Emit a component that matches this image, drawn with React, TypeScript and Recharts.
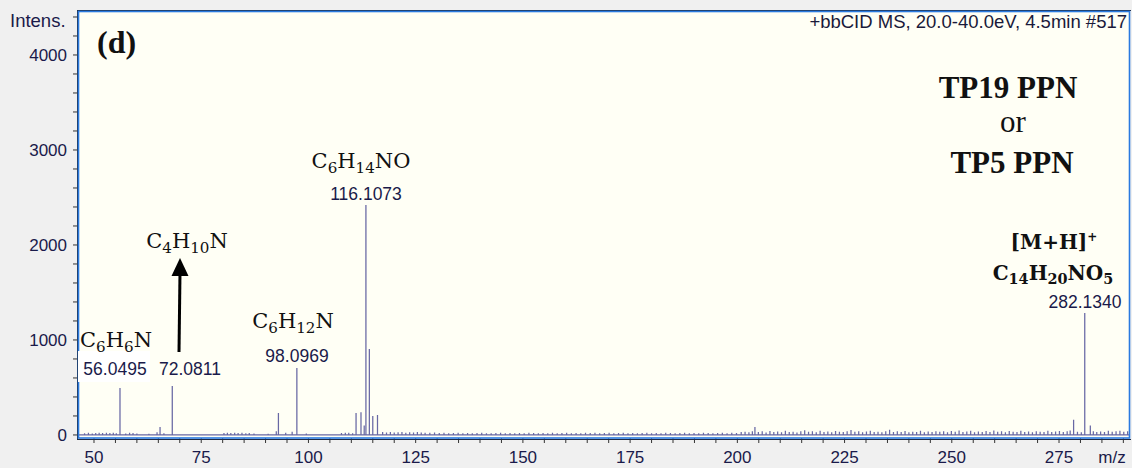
import { ComposedChart, Line, XAxis, YAxis, CartesianGrid } from 'recharts';

// main fragment peaks [m/z, intensity]
const peaks: [number, number][] = [
  [56.06, 495], [65.4, 85], [68.25, 515], [93.0, 230], [97.3, 705],
  [111.1, 230], [112.25, 240], [113.0, 100], [113.4, 2420], [114.2, 905],
  [115.0, 200], [116.1, 210], [278.4, 160], [281.0, 1284], [282.3, 100],
];

// baseline noise sticks [m/z, intensity]
const noise: [number, number][] = [
  [46.4, 0], [47.8, 18], [48.7, 22], [49.6, 15], [50.4, 20], [51.2, 24], [52.0, 20], [52.9, 23],
  [53.7, 21], [54.5, 24], [55.2, 18], [57.4, 16], [58.3, 22], [59.1, 20], [60.0, 15], [62.8, 14],
  [64.7, 28], [66.3, 18], [80.3, 20], [81.1, 23], [81.9, 20], [82.8, 24], [83.6, 21], [84.5, 23],
  [85.4, 18], [86.2, 20], [87.3, 16], [90.6, 14], [92.5, 38], [94.7, 22], [96.2, 35], [99.5, 16],
  [107.7, 20], [108.6, 22], [109.4, 24], [110.3, 19], [117.3, 30], [118.2, 27], [119.1, 30], [120.0, 25],
  [120.9, 28], [121.8, 30], [122.7, 24], [123.6, 28], [124.5, 26], [125.4, 30], [126.3, 27], [127.2, 24],
  [128.3, 22], [129.4, 25], [130.5, 20], [131.6, 22], [132.7, 18], [133.8, 20], [134.9, 22], [136.0, 19],
  [137.1, 21], [138.2, 18], [139.3, 20], [140.4, 22], [141.5, 19], [142.6, 17], [143.7, 20], [144.8, 22],
  [145.9, 18], [147.0, 20], [148.1, 19], [149.2, 21], [150.3, 18], [151.4, 22], [152.5, 20], [153.6, 17],
  [154.7, 21], [155.8, 19], [156.9, 22], [158.0, 18], [159.1, 20], [160.2, 23], [161.3, 19], [162.4, 21],
  [163.5, 18], [164.6, 22], [165.7, 20], [166.8, 24], [167.9, 19], [169.0, 21], [170.1, 23], [171.2, 18],
  [172.3, 20], [173.4, 22], [174.5, 19], [175.6, 21], [176.7, 17], [177.8, 20], [178.9, 22], [180.0, 18],
  [181.1, 21], [182.2, 19], [183.3, 22], [184.4, 20], [185.5, 18], [186.6, 21], [187.7, 23], [188.8, 19],
  [189.9, 20], [191.0, 17], [192.1, 22], [193.2, 20], [194.3, 18], [195.4, 21], [196.5, 24], [197.6, 19],
  [198.7, 22], [199.8, 20], [200.9, 30], [201.8, 35], [202.7, 28], [203.5, 40], [204.1, 85], [204.9, 32],
  [205.8, 38], [206.7, 26], [207.6, 42], [208.5, 30], [209.4, 36], [210.3, 28], [211.2, 45], [212.1, 30],
  [213.0, 34], [213.9, 27], [214.8, 40], [215.7, 50], [216.6, 33], [217.5, 38], [218.4, 29], [219.3, 44],
  [220.2, 31], [221.1, 36], [222.0, 28], [222.9, 42], [223.8, 35], [224.7, 30], [225.6, 38], [226.5, 52],
  [227.4, 33], [228.3, 40], [229.2, 29], [230.1, 36], [231.0, 45], [231.9, 30], [232.8, 34], [233.7, 28],
  [234.6, 40], [235.5, 55], [236.4, 32], [237.3, 38], [238.2, 30], [239.1, 42], [240.0, 28], [240.9, 35],
  [241.8, 31], [242.7, 44], [243.6, 29], [244.5, 36], [245.4, 30], [246.3, 40], [247.2, 33], [248.1, 38],
  [249.0, 28], [249.9, 42], [250.8, 35], [251.7, 48], [252.6, 30], [253.5, 37], [254.4, 44], [255.3, 29],
  [256.2, 36], [257.1, 31], [258.0, 42], [258.9, 30], [259.8, 46], [260.7, 33], [261.6, 38], [262.5, 28],
  [263.4, 41], [264.3, 35], [265.2, 30], [266.1, 44], [267.0, 32], [267.9, 37], [268.8, 29], [269.7, 40],
  [270.6, 34], [271.5, 31], [272.4, 45], [273.3, 30], [274.2, 36], [275.1, 42], [276.0, 30], [276.9, 38],
  [277.6, 46], [279.3, 34], [280.2, 28], [283.0, 40], [283.8, 32], [284.7, 36], [285.6, 30], [286.5, 44],
  [287.4, 33], [288.3, 38], [289.2, 45], [290.1, 34], [291.0, 40], [291.5, 0],
];

const xTicks = [50, 55, 60, 65, 70, 75, 80, 85, 90, 95, 100, 105, 110, 115, 120, 125, 130, 135, 140, 145,
  150, 155, 160, 165, 170, 175, 180, 185, 190, 195, 200, 205, 210, 215, 220, 225, 230, 235, 240, 245,
  250, 255, 260, 265, 270, 275, 280, 285, 290];
const yTicks = [0, 200, 400, 600, 800, 1000, 1200, 1400, 1600, 1800, 2000, 2200, 2400, 2600, 2800,
  3000, 3200, 3400, 3600, 3800, 4000, 4200, 4400];

// each peak becomes a stick: up and back down to the baseline
const sticks = [...peaks, ...noise]
  .sort((a, b) => a[0] - b[0])
  .flatMap(([mz, v]) => [{ mz, i: 0 }, { mz, i: v }, { mz, i: 0 }]);

const NAVY = '#1a1a4a';
const tickStyle = { fill: NAVY, fontSize: 17, fontFamily: 'Liberation Sans' };

const Chem = ({ text, x, y, size, bold }: { text: string; x: number; y: number; size: number; bold?: boolean }) => {
  const parts = text.match(/\d+|\D+/g) || [];
  const shift = Math.round(size * 0.22);
  let low = false;
  return (
    <text x={x} y={y} textAnchor="middle" fontFamily="DejaVu Serif" fontSize={size}
      fontWeight={bold ? 'bold' : 'normal'} fill="#111">
      {parts.map((p, k) => {
        if (/\d/.test(p)) {
          const dy = low ? 0 : shift;
          low = true;
          return <tspan key={k} dy={dy} fontSize={size * 0.72}>{p}</tspan>;
        }
        const dy = low ? -shift : 0;
        low = false;
        return <tspan key={k} dy={dy}>{p}</tspan>;
      })}
    </text>
  );
};

const Mass = ({ x, y, children }: { x: number; y: number; children: string }) => (
  <text x={x} y={y} textAnchor="middle" fontFamily="Liberation Sans" fontSize={17.5} fill={NAVY}>{children}</text>
);

export default function App() {
  return (
    <div style={{ position: 'absolute', left: 0, top: 0, width: 1132, height: 468, background: '#f0f0f0' }}>
      <ComposedChart width={1132} height={468} data={sticks} margin={{ top: 11, right: 2, left: 0, bottom: 0 }}>
        <CartesianGrid horizontal={false} vertical={false} fill="#fffff5" />
        <XAxis dataKey="mz" type="number" domain={[46.27, 291.55]} allowDataOverflow ticks={xTicks}
          interval={0} tickFormatter={(v: number) => (v % 25 === 0 ? String(v) : '')}
          axisLine={false} tickSize={5} tickMargin={8} height={30}
          tickLine={{ stroke: '#333' }} tick={tickStyle} />
        <YAxis type="number" domain={[-32, 4463]} allowDataOverflow ticks={yTicks} interval={0}
          tickFormatter={(v: number) => (v % 1000 === 0 ? String(v) : '')}
          axisLine={false} tickSize={5} tickMargin={6} width={78}
          tickLine={{ stroke: '#333' }} tick={tickStyle} />
        <Line dataKey="i" type="linear" dot={false} stroke="#6868a4" strokeWidth={1.25}
          isAnimationActive={false} />
      </ComposedChart>
      <svg width={1132} height={468} style={{ position: 'absolute', left: 0, top: 0, pointerEvents: 'none' }}>
        {/* plot frame */}
        <line x1={77} y1={10.5} x2={1131} y2={10.5} stroke="#1d2b44" strokeWidth={1} />
        <line x1={77.5} y1={10} x2={77.5} y2={440} stroke="#1d2b44" strokeWidth={1} />
        <line x1={77} y1={439.5} x2={1131} y2={439.5} stroke="#1d2b44" strokeWidth={1} />
        <rect x={78.5} y={11.5} width={1051} height={426.5} fill="none" stroke="#2a7ae0" strokeWidth={1.6} />
        <rect x={78} y={351} width={72} height={31} fill="#ffffff" />

        <text x={10} y={27} fontFamily="Liberation Sans" fontSize={18.5} fill={NAVY}>Intens.</text>
        <text x={1127} y={28} textAnchor="end" fontFamily="Liberation Sans" fontSize={18.5} fill="#1a1a3a">
          +bbCID MS, 20.0-40.0eV, 4.5min #517
        </text>
        <text x={1112} y={463} textAnchor="middle" fontFamily="Liberation Sans" fontSize={17} fill={NAVY}>m/z</text>

        <text x={97} y={53} fontFamily="Liberation Serif" fontWeight="bold" fontSize={32} fill="#111">(d)</text>
        <text x={1008} y={98} textAnchor="middle" fontFamily="Liberation Serif" fontWeight="bold" fontSize={31} fill="#111">TP19 PPN</text>
        <text x={1013} y={132} textAnchor="middle" fontFamily="Liberation Serif" fontSize={31} fill="#111">or</text>
        <text x={1012} y={173} textAnchor="middle" fontFamily="Liberation Serif" fontWeight="bold" fontSize={31} fill="#111">TP5 PPN</text>

        <Chem text="C6H6N" x={116} y={347} size={21} />
        <Chem text="C4H10N" x={187} y={248} size={21} />
        <Chem text="C6H12N" x={293} y={328} size={21} />
        <Chem text="C6H14NO" x={361} y={168} size={21} />
        <text x={1054} y={249} textAnchor="middle" fontFamily="DejaVu Serif" fontWeight="bold" fontSize={20} fill="#111">
          [M+H]<tspan dy={-8} fontSize={12}>+</tspan>
        </text>
        <Chem text="C14H20NO5" x={1053} y={280} size={20} bold />

        <Mass x={115} y={375}>56.0495</Mass>
        <Mass x={190} y={375}>72.0811</Mass>
        <Mass x={297} y={362}>98.0969</Mass>
        <Mass x={366} y={200}>116.1073</Mass>
        <Mass x={1085} y={308}>282.1340</Mass>

        {/* arrow from 72.0811 label up to C4H10N */}
        <line x1={179} y1={352} x2={180} y2={272} stroke="#000" strokeWidth={3} />
        <polygon points="180,258 171.5,276 188.5,276" fill="#000" />
      </svg>
    </div>
  );
}
